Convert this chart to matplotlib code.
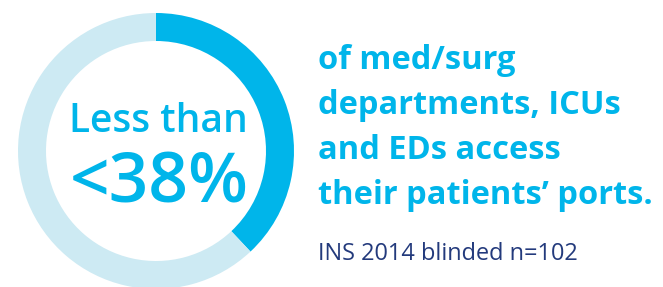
import matplotlib.pyplot as plt

# ============ 数据 ============
shares = [38, 62]           # 百分比：访问端口 / 其他
ring_colors = ['#00B5EA', '#CDEAF3']
center_lines = ['Less than', '<38%']
body_lines = ['of med/surg', 'departments, ICUs', 'and EDs access',
              'their patients\u2019 ports.']
source_note = 'INS 2014 blinded n=102'

# ============ 样式 ============
cyan = '#00B5EA'
navy = '#233A7C'
font_family = ['Open Sans', 'DejaVu Sans']

W, H = 663, 287
fig = plt.figure(figsize=(W / 100, H / 100), dpi=100)
ax = fig.add_axes([0, 0, 1, 1])

ax.pie(shares, colors=ring_colors, startangle=90, counterclock=False,
       center=(156, H - 151), radius=138, frame=True,
       wedgeprops=dict(width=28, edgecolor='none', linewidth=0))
ax.set_xlim(0, W)
ax.set_ylim(0, H)
ax.set_aspect('auto')
ax.axis('off')

# 圆环中央文字
ax.text(158, H - 132, center_lines[0], ha='center', va='baseline',
        fontsize=28, color=cyan, family=font_family, fontweight='semibold')
ax.text(159, H - 202, center_lines[1], ha='center', va='baseline',
        fontsize=50, color=cyan, family=font_family, fontweight='semibold')

# 右侧说明
for i, line in enumerate(body_lines):
    ax.text(318, H - (69 + 45 * i), line, ha='left', va='baseline',
            fontsize=23.5, color=cyan, family=font_family, fontweight='bold')

ax.text(318, H - 260, source_note, ha='left', va='baseline',
        fontsize=16.9, color=navy, family=font_family)

fig.savefig('out.png', dpi=100, facecolor='white')
